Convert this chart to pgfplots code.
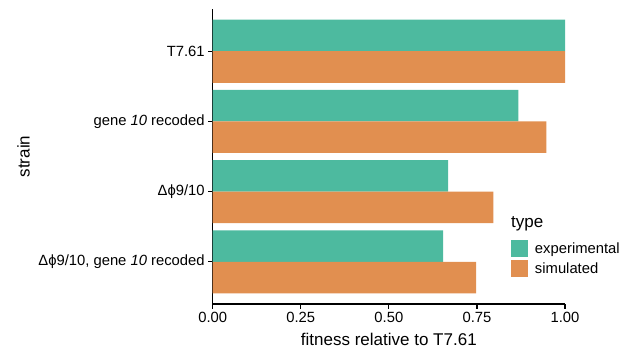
\documentclass[border=0pt]{standalone}
\usepackage{pgfplots}
\pgfplotsset{compat=1.18}
\usepackage{fontspec}
\setmainfont{Liberation Sans}

\definecolor{expcol}{RGB}{77,186,159}
\definecolor{simcol}{RGB}{225,143,80}

\newcommand{\ticksize}{\fontsize{14.8}{17}\selectfont}
\newcommand{\titlesize}{\fontsize{17}{20}\selectfont}

\begin{document}
\begin{tikzpicture}
\begin{axis}[
  at={(212.7pt,50pt)}, anchor=south west,
  scale only axis, width=352.3pt, height=295pt,
  xmin=0, xmax=1, ymin=-0.6, ymax=3.6,
  axis x line*=bottom, axis y line*=left,
  axis line style={line width=1.2pt, -, black},
  tick align=outside, major tick length=4.5pt,
  tick style={line width=1.2pt, black},
  xtick={0,0.25,0.5,0.75,1},
  xticklabel style={/pgf/number format/.cd, fixed, fixed zerofill, precision=2},
  /pgf/number format/assume math mode=true,
  ytick={0,1,2,3},
  yticklabels={{Δϕ9/10, gene \textit{10} recoded},{Δϕ9/10},{gene \textit{10} recoded},{T7.61}},
  tick label style={font=\ticksize, text=black},
  xlabel={fitness relative to T7.61},
  ylabel={strain},
  label style={font=\titlesize, text=black},
  xlabel style={at={(axis description cs:0.5,0)}, anchor=base, yshift=-41pt},
  ylabel style={at={(axis description cs:-0.52,0.5)}, anchor=base, rotate=0},
  legend style={at={(axis description cs:0.8467,0.2237)}, anchor=north west,
    draw=none, fill=none, inner sep=0pt, outer sep=0pt,
    row sep=1pt, column sep=5pt, font=\ticksize,
    cells={anchor=base west, inner sep=0pt, text height=13.5pt, text depth=3.5pt, text=black}},
]
% experimental fitness (upper bar of each strain)
\addplot[xbar, bar width=0.45, bar shift=0.225, fill=expcol, draw=none,
  legend image code/.code={\fill[expcol] (0pt,-3.5pt) rectangle (17pt,13.5pt);}]
  coordinates {(1.000,3) (0.868,2) (0.668,1) (0.654,0)};
\addlegendentry{experimental}
% simulated fitness (lower bar of each strain)
\addplot[xbar, bar width=0.45, bar shift=-0.225, fill=simcol, draw=none,
  legend image code/.code={\fill[simcol] (0pt,-3.5pt) rectangle (17pt,13.5pt);}]
  coordinates {(1.000,3) (0.947,2) (0.797,1) (0.748,0)};
\addlegendentry{simulated}
\end{axis}
\node[anchor=base west, font=\titlesize, text=black, inner sep=0pt] at (511pt,127pt) {type};
\pgfresetboundingbox
\path[use as bounding box] (0,0) rectangle (627pt,354pt);
\end{tikzpicture}
\end{document}
